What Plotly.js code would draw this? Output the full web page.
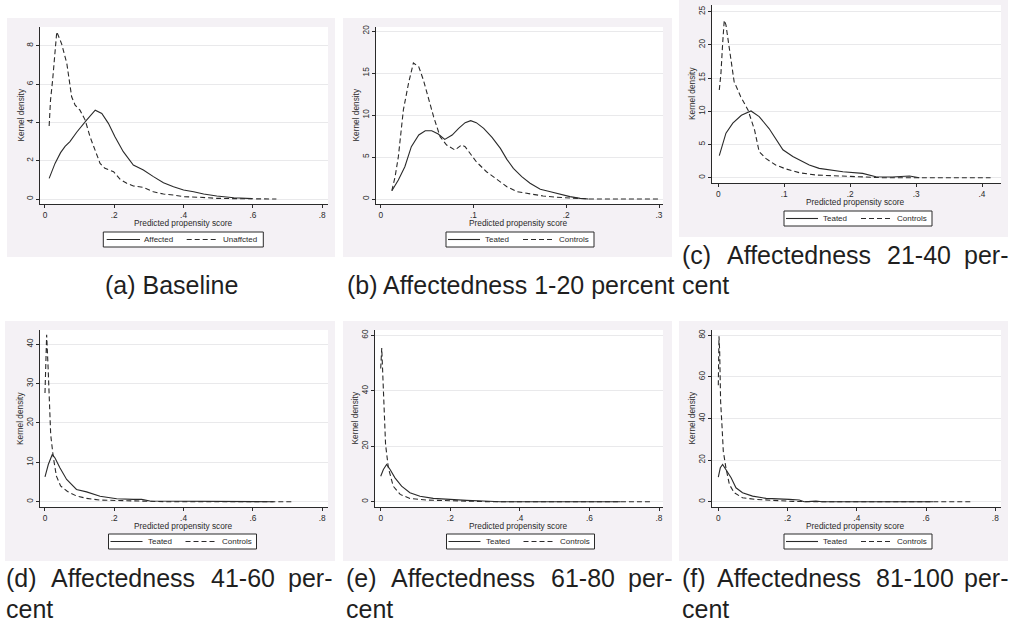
<!DOCTYPE html>
<html><head><meta charset="utf-8">
<script src="https://cdn.plot.ly/plotly-3.0.1.min.js"></script>
<style>html,body{margin:0;padding:0;background:#fff}</style>
</head><body><div id="chart" style="width:1011px;height:624px"></div>
<script>
// ---------- DATA ----------
// (a) Baseline
const aAffX = [0.012, 0.029, 0.045, 0.058, 0.072, 0.092, 0.12, 0.145, 0.164, 0.183, 0.202, 0.226, 0.255, 0.284, 0.313, 0.342, 0.371, 0.4, 0.429, 0.458, 0.496, 0.545, 0.598];
const aAffY = [1.08, 1.86, 2.42, 2.75, 3.0, 3.5, 4.12, 4.64, 4.47, 3.95, 3.25, 2.47, 1.77, 1.51, 1.17, 0.85, 0.64, 0.47, 0.38, 0.26, 0.16, 0.07, 0.02];
const aUnaX = [0.012, 0.016, 0.022, 0.029, 0.034, 0.048, 0.063, 0.077, 0.087, 0.101, 0.116, 0.13, 0.145, 0.159, 0.173, 0.198, 0.217, 0.236, 0.255, 0.284, 0.313, 0.342, 0.371, 0.4, 0.448, 0.496, 0.545, 0.6, 0.668];
const aUnaY = [3.81, 5.17, 6.2, 7.6, 8.73, 8.1, 7.08, 5.34, 4.9, 4.64, 4.12, 3.25, 2.56, 1.86, 1.6, 1.43, 1.03, 0.82, 0.68, 0.61, 0.38, 0.26, 0.21, 0.12, 0.09, 0.035, 0.02, 0.01, 0.0];
// (b) Affectedness 1-20 percent
const bTeaX = [0.012, 0.019, 0.026, 0.033, 0.041, 0.048, 0.055, 0.062, 0.069, 0.077, 0.084, 0.091, 0.097, 0.103, 0.111, 0.12, 0.129, 0.136, 0.143, 0.152, 0.161, 0.172, 0.183, 0.193, 0.204, 0.215, 0.224];
const bTeaY = [0.99, 2.26, 3.85, 6.23, 7.62, 8.13, 8.13, 7.74, 7.1, 7.62, 8.41, 9.09, 9.33, 9.09, 8.41, 7.34, 6.03, 4.72, 3.65, 2.66, 1.87, 1.15, 0.87, 0.56, 0.28, 0.08, 0.0];
const bConX = [0.012, 0.0155, 0.019, 0.0244, 0.03, 0.0352, 0.041, 0.046, 0.051, 0.057, 0.064, 0.071, 0.08, 0.087, 0.091, 0.096, 0.103, 0.114, 0.125, 0.136, 0.147, 0.161, 0.175, 0.19, 0.208, 0.226, 0.25, 0.3];
const bConY = [0.99, 2.66, 5.04, 10.6, 13.8, 16.2, 15.75, 14.17, 12.18, 9.8, 7.42, 6.43, 5.83, 6.43, 6.23, 5.44, 4.44, 3.25, 2.34, 1.47, 0.87, 0.6, 0.36, 0.2, 0.08, 0.0, 0.0, 0.0];
// (c) Affectedness 21-40 percent
const cTeaX = [0.0015, 0.0116, 0.022, 0.035, 0.0496, 0.062, 0.077, 0.098, 0.113, 0.138, 0.153, 0.173, 0.189, 0.219, 0.239, 0.264, 0.29, 0.305];
const cTeaY = [3.31, 6.7, 8.2, 9.4, 10.04, 9.2, 7.4, 4.2, 3.2, 1.9, 1.4, 1.15, 0.9, 0.65, 0.15, 0.1, 0.25, 0.0];
const cConX = [0.0015, 0.004, 0.0066, 0.009, 0.0116, 0.017, 0.024, 0.034, 0.045, 0.055, 0.062, 0.072, 0.087, 0.103, 0.123, 0.148, 0.179, 0.214, 0.249, 0.3, 0.35, 0.413];
const cConY = [13.2, 15.7, 20.2, 23.7, 23.0, 19.0, 14.46, 12.2, 10.2, 7.18, 3.9, 2.9, 1.9, 1.3, 0.75, 0.4, 0.25, 0.1, 0.0, 0.0, 0.0, 0.0];
// (d) Affectedness 41-60 percent
const dTeaX = [0.0, 0.0096, 0.021, 0.029, 0.043, 0.0625, 0.091, 0.12, 0.159, 0.207, 0.255, 0.279, 0.303, 0.351, 0.404, 0.413, 0.5, 0.66];
const dTeaY = [6.3, 9.45, 12.0, 11.1, 8.6, 5.65, 3.1, 2.5, 1.4, 0.76, 0.6, 0.6, 0.17, 0.17, 0.17, 0.0, 0.0, 0.0];
const dConX = [0.0, 0.0048, 0.009, 0.0125, 0.0165, 0.024, 0.033, 0.045, 0.065, 0.09, 0.12, 0.16, 0.26, 0.35, 0.5, 0.716];
const dConY = [27.6, 42.4, 34.0, 25.0, 17.0, 11.3, 6.5, 4.0, 2.6, 1.5, 0.84, 0.42, 0.17, 0.0, 0.0, 0.0];
// (e) Affectedness 61-80 percent
const eTeaX = [0.0, 0.0077, 0.017, 0.027, 0.041, 0.06, 0.084, 0.113, 0.151, 0.2, 0.247, 0.295, 0.343, 0.5, 0.69];
const eTeaY = [9.2, 11.6, 13.4, 11.6, 8.6, 5.6, 3.24, 2.0, 1.2, 0.72, 0.48, 0.24, 0.0, 0.0, 0.0];
const eConX = [0.0, 0.003, 0.006, 0.0096, 0.014, 0.022, 0.036, 0.056, 0.084, 0.132, 0.2, 0.266, 0.314, 0.5, 0.78];
const eConY = [48.0, 55.4, 45.8, 35.0, 20.6, 12.2, 5.6, 2.64, 1.2, 0.6, 0.36, 0.12, 0.0, 0.0, 0.0];
// (f) Affectedness 81-100 percent
const fTeaX = [0.0, 0.0058, 0.0125, 0.022, 0.037, 0.051, 0.07, 0.099, 0.138, 0.205, 0.234, 0.248, 0.282, 0.3, 0.62];
const fTeaY = [11.8, 16.3, 17.9, 15.5, 11.5, 6.7, 4.3, 2.7, 1.6, 1.1, 0.8, 0.0, 0.3, 0.0, 0.0];
const fConX = [0.0, 0.002, 0.004, 0.0067, 0.011, 0.0144, 0.022, 0.032, 0.046, 0.07, 0.109, 0.147, 0.215, 0.263, 0.5, 0.73];
const fConY = [56.0, 79.5, 72.0, 48.0, 35.5, 24.3, 16.3, 8.3, 4.3, 1.9, 1.1, 0.64, 0.16, 0.0, 0.0, 0.0];

// tick values / labels
const xTicks8 = [0, 0.2, 0.4, 0.6, 0.8];
const xLabels8 = ["0", ".2", ".4", ".6", ".8"];
const xTicks3 = [0, 0.1, 0.2, 0.3];
const xLabels3 = ["0", ".1", ".2", ".3"];
const xTicks4 = [0, 0.1, 0.2, 0.3, 0.4];
const xLabels4 = ["0", ".1", ".2", ".3", ".4"];
const yTicksA = [0, 2, 4, 6, 8];
const yTicksB = [0, 5, 10, 15, 20];
const yTicksC = [0, 5, 10, 15, 20, 25];
const yTicksD = [0, 10, 20, 30, 40];
const yTicksE = [0, 20, 40, 60];
const yTicksF = [0, 20, 40, 60, 80];

const seriesNamesA = ["Affected", "Unaffcted"];
const seriesNames = ["Teated", "Controls"];
const xTitle = "Predicted propensity score";
const yTitle = "Kernel density";

// ---------- LAYOUT ----------
const W = 1011, H = 624;
const FONT = "Liberation Sans, Arial, Helvetica, sans-serif";
const INK = "#2a2a2a";
const BG = "#f4f1f5";
const DASH = "5px,3px";

// legend geometry offsets (px, relative to legend box left)
const legA = {w:160, s:[3.4, 36.7], t1:40, d:[83.4, 115], t2:118.4};
const legT = {w:148, s:[2, 34], t1:38, d:[77, 107.3], t2:112.3};

const panels = [
  {solid:[aAffX,aAffY], dash:[aUnaX,aUnaY], names:seriesNamesA, xt:xTicks8, xl:xLabels8, yt:yTicksA,
   plot:{l:40,r:328,t:27,b:204}, xr:[-0.0144,0.817], yr:[-0.26,8.98], bg:{l:7,r:335,t:18,b:257},
   leg:{l:103.3,t:232,g:legA}, xtY:223, ytX:20},
  {solid:[bTeaX,bTeaY], dash:[bConX,bConY], names:seriesNames, xt:xTicks3, xl:xLabels3, yt:yTicksB,
   plot:{l:376,r:663,t:27,b:204}, xr:[-0.0051,0.3043], yr:[-0.595,20.48], bg:{l:343,r:672,t:18,b:257},
   leg:{l:446,t:232,g:legT}, xtY:223, ytX:355},
  {solid:[cTeaX,cTeaY], dash:[cConX,cConY], names:seriesNames, xt:xTicks4, xl:xLabels4, yt:yTicksC,
   plot:{l:712,r:1001,t:5,b:183}, xr:[-0.00956,0.4288], yr:[-0.8,26.0], bg:{l:679,r:1008,t:0,b:237},
   leg:{l:784,t:211,g:legT}, xtY:202, ytX:692},
  {solid:[dTeaX,dTeaY], dash:[dConX,dConY], names:seriesNames, xt:xTicks8, xl:xLabels8, yt:yTicksD,
   plot:{l:40,r:328,t:330,b:507}, xr:[-0.0144,0.817], yr:[-1.34,43.6], bg:{l:5,r:335,t:321,b:561},
   leg:{l:108.5,t:534,g:legT}, xtY:526, ytX:20.5},
  {solid:[eTeaX,eTeaY], dash:[eConX,eConY], names:seriesNames, xt:xTicks8, xl:xLabels8, yt:yTicksE,
   plot:{l:375,r:663,t:330,b:507}, xr:[-0.0164,0.8115], yr:[-1.9,61.9], bg:{l:343,r:672,t:321,b:561},
   leg:{l:446.5,t:534,g:legT}, xtY:526, ytX:355},
  {solid:[fTeaX,fTeaY], dash:[fConX,fConY], names:seriesNames, xt:xTicks8, xl:xLabels8, yt:yTicksF,
   plot:{l:712,r:1001,t:330,b:507}, xr:[-0.0182,0.8165], yr:[-2.54,82.5], bg:{l:679,r:1008,t:321,b:561},
   leg:{l:784,t:534,g:legT}, xtY:526, ytX:692}
];

const px = v => v / W;
const py = v => 1 - v / H;

const traces = [];
const layout = {
  width: W, height: H,
  margin: {l:0, r:0, t:0, b:0, pad:0},
  paper_bgcolor: "#ffffff",
  plot_bgcolor: "rgba(0,0,0,0)",
  font: {family: FONT, color: INK, size: 8.3},
  showlegend: false,
  shapes: [],
  annotations: []
};
const smallFont = {size:8.3, family:FONT, color:INK};
const legFont = {size:8, family:FONT, color:INK};

function note(text, x, y, opts) {
  layout.annotations.push(Object.assign({text:text, xref:"paper", yref:"paper", x:px(x), y:py(y),
    xanchor:"center", yanchor:"middle", showarrow:false, borderpad:0, font:smallFont}, opts || {}));
}

panels.forEach((p, i) => {
  const n = i + 1;
  const sx = n === 1 ? "" : String(n);
  const xa = "x" + sx, ya = "y" + sx;
  traces.push({type:"scatter", mode:"lines", x:p.solid[0], y:p.solid[1], name:p.names[0],
    xaxis:xa, yaxis:ya, line:{color:INK, width:1.1}, hoverinfo:"skip"});
  traces.push({type:"scatter", mode:"lines", x:p.dash[0], y:p.dash[1], name:p.names[1],
    xaxis:xa, yaxis:ya, line:{color:INK, width:1.1, dash:DASH}, hoverinfo:"skip"});

  layout["xaxis" + sx] = {
    domain:[px(p.plot.l), px(p.plot.r)], anchor:ya, range:p.xr, fixedrange:true,
    tickmode:"array", tickvals:p.xt, ticktext:p.xl,
    ticks:"outside", ticklen:3, tickwidth:1, tickcolor:INK,
    showline:true, linecolor:INK, linewidth:1, showgrid:false, zeroline:false,
    tickfont:smallFont
  };
  layout["yaxis" + sx] = {
    domain:[py(p.plot.b), py(p.plot.t)], anchor:xa, range:p.yr, fixedrange:true,
    tickmode:"array", tickvals:p.yt, tickangle:-90,
    ticks:"outside", ticklen:3, tickwidth:1, tickcolor:INK,
    showline:true, linecolor:INK, linewidth:1, showgrid:true, gridcolor:"#e9e9eb", gridwidth:1, zeroline:false,
    tickfont:smallFont
  };
  // panel background and white plot region
  layout.shapes.push({type:"rect", xref:"paper", yref:"paper", layer:"below",
    x0:px(p.bg.l), x1:px(p.bg.r), y0:py(p.bg.b), y1:py(p.bg.t), fillcolor:BG, line:{width:0}});
  layout.shapes.push({type:"rect", xref:"paper", yref:"paper", layer:"below",
    x0:px(p.plot.l), x1:px(p.plot.r), y0:py(p.plot.b), y1:py(p.plot.t), fillcolor:"#ffffff", line:{width:0}});

  // axis titles
  note(xTitle, (p.plot.l + p.plot.r) / 2 - 1, p.xtY);
  note(yTitle, p.ytX, (p.plot.t + p.plot.b) / 2, {textangle:-90});

  // legend box (Stata-style key)
  const L = p.leg, g = L.g, cy = L.t + 7.5;
  layout.shapes.push({type:"rect", xref:"paper", yref:"paper", layer:"above",
    x0:px(L.l), x1:px(L.l + g.w), y0:py(L.t + 15), y1:py(L.t), fillcolor:"#ffffff", line:{color:INK, width:1}});
  layout.shapes.push({type:"line", xref:"paper", yref:"paper", layer:"above",
    x0:px(L.l + g.s[0]), x1:px(L.l + g.s[1]), y0:py(cy), y1:py(cy), line:{color:INK, width:1.1}});
  layout.shapes.push({type:"line", xref:"paper", yref:"paper", layer:"above",
    x0:px(L.l + g.d[0]), x1:px(L.l + g.d[1]), y0:py(cy), y1:py(cy), line:{color:INK, width:1.1, dash:DASH}});
  note(p.names[0], L.l + g.t1, cy, {xanchor:"left", font:legFont});
  note(p.names[1], L.l + g.t2, cy, {xanchor:"left", font:legFont});
});

// ---------- CAPTIONS ----------
const CAP = {size:25, family:FONT, color:"#1f1f1f"};
function cap(text, x, y, anchor) {
  layout.annotations.push({text:text, xref:"paper", yref:"paper", x:px(x), y:py(y),
    xanchor:anchor || "left", yanchor:"middle", showarrow:false, font:CAP, borderpad:0});
}
cap("(a) Baseline", 171, 284.5, "center");
cap("(b) Affectedness 1-20 percent", 511, 284.5, "center");
// justified two-line captions
const capRows = [
  {words:["(c)","Affectedness","21-40","per-"], xs:[681,726,886,963], y:254.5, x2:681, y2:284.5},
  {words:["(d)","Affectedness","41-60","per-"], xs:[5,50,210,287], y:578.2, x2:5, y2:608.8},
  {words:["(e)","Affectedness","61-80","per-"], xs:[345,390,550,627], y:578.2, x2:345, y2:608.8},
  {words:["(f)","Affectedness","81-100","per-"], xs:[681,716,875,963], y:578.2, x2:681, y2:608.8}
];
capRows.forEach(r => {
  r.words.forEach((w, k) => cap(w, r.xs[k], r.y));
  cap("cent", r.x2, r.y2);
});

Plotly.newPlot("chart", traces, layout, {staticPlot:true, displayModeBar:false});
</script></body></html>
